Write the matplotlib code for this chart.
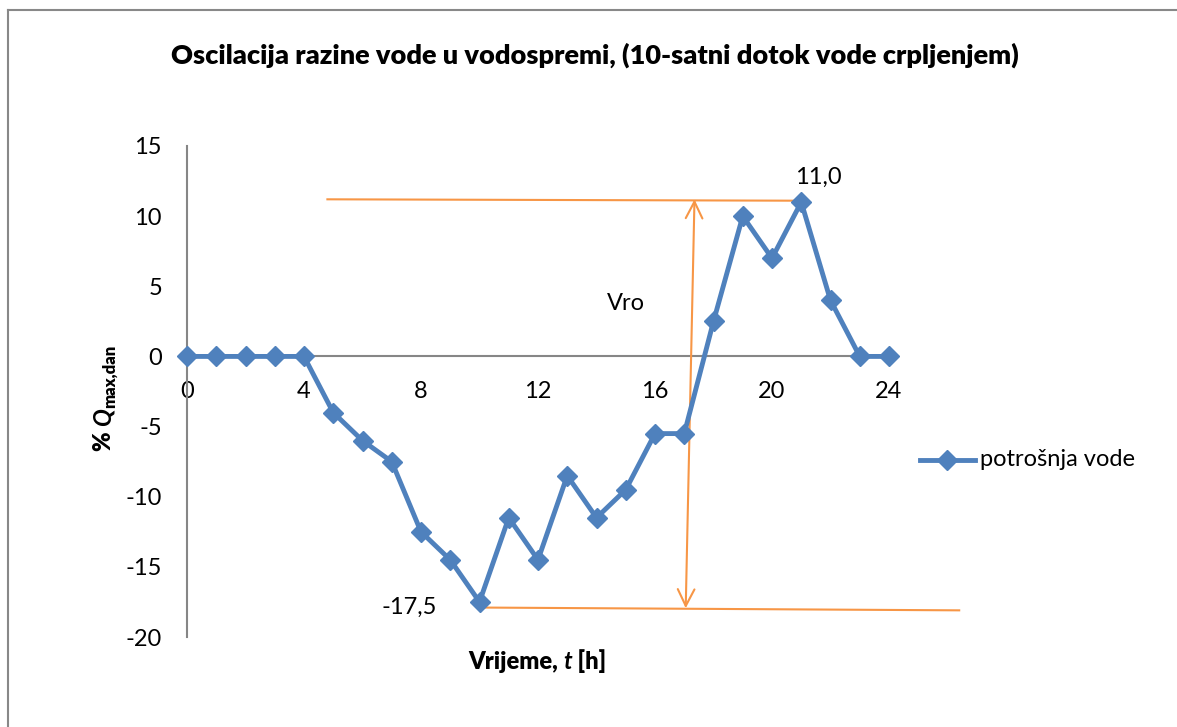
import numpy as np
import matplotlib.pyplot as plt
from matplotlib.lines import Line2D

plt.rcParams['font.family'] = ['Lato', 'DejaVu Sans']

# podaci
sati = list(range(25))
razina = [0, 0, 0, 0, 0, -4, -6, -7.5, -12.5, -14.5, -17.5, -11.5, -14.5, -8.5,
          -11.5, -9.5, -5.5, -5.5, 2.5, 10, 7, 11, 4, 0, 0]
xticks = [0, 4, 8, 12, 16, 20, 24]
yticks = [-20, -15, -10, -5, 0, 5, 10, 15]

plava = '#4F81BD'
narancasta = '#F79646'
siva = '#868686'
W, H = 1177, 727

fig = plt.figure(figsize=(11.77, 7.27), dpi=100)
ax = fig.add_axes([187/W, 1-637/H, (889-187)/W, (637-146)/H])

ax.plot(sati, razina, color=plava, lw=3.5, marker='D', ms=10.5, clip_on=False,
        zorder=5, label='potrošnja vode')

ax.set_xlim(0, 24)
ax.set_ylim(-20, 15)
ax.set_xticks(xticks)
ax.set_yticks(yticks)
ax.set_yticklabels([str(v) for v in yticks])
ax.spines['top'].set_visible(False)
ax.spines['right'].set_visible(False)
ax.spines['bottom'].set_position(('data', 0))
for s in ['left', 'bottom']:
    ax.spines[s].set_color(siva)
    ax.spines[s].set_linewidth(1.5)
ax.tick_params(axis='both', length=0, labelsize=17)
ax.tick_params(axis='y', pad=18)
ax.tick_params(axis='x', pad=18)

# pomocne linije
ax.plot([4.8, 21], [11.2, 11.1], color=narancasta, lw=1.5, clip_on=False, zorder=4)
ax.plot([10, 26.4], [-17.9, -18.1], color=narancasta, lw=1.5, clip_on=False, zorder=4)
ax.annotate('', xy=(17.35, 11.2), xytext=(17.05, -17.95),
            arrowprops=dict(arrowstyle='<->', color=narancasta, lw=1.5,
                            mutation_scale=30, shrinkA=0, shrinkB=0))

ax.text(15, 3.8, 'Vro', fontsize=17, ha='center', va='center')
ax.text(21.6, 12.8, '11,0', fontsize=17, ha='center', va='center')
ax.text(7.6, -17.9, '-17,5', fontsize=17, ha='center', va='center')

fig.text(595/W, 1-55/H, 'Oscilacija razine vode u vodospremi, (10-satni dotok vode crpljenjem)',
         fontsize=19.5, fontweight='heavy', ha='center', va='center')

# naslovi osi slazu se iz dijelova (bold, italic, indeks)
renderer = fig.canvas.get_renderer()


def slozi(dijelovi, cx, cy, vertikalno):
    # dijelovi: (tekst, velicina, stil, tezina, pomak baseline u px)
    duljine = []
    for t, fs, st, tz, dy in dijelovi:
        tmp = fig.text(0, 0, t, fontsize=fs, fontweight=tz, style=st)
        bb = tmp.get_window_extent(renderer)
        duljine.append(bb.width)
        tmp.remove()
    ukupno = sum(duljine)
    poz = -ukupno / 2
    for (t, fs, st, tz, dy), d in zip(dijelovi, duljine):
        if vertikalno:
            x = cx + dy + 6
            y = (H - cy) + poz
            fig.text(x / W, y / H, t, fontsize=fs, fontweight=tz, style=st,
                     rotation=90, rotation_mode='anchor', ha='left', va='baseline')
        else:
            x = cx + poz
            y = (H - cy) - dy - 6
            fig.text(x / W, y / H, t, fontsize=fs, fontweight=tz, style=st,
                     ha='left', va='baseline')
        poz += d


slozi([('Vrijeme, ', 17, 'normal', 'heavy', 0), ('t', 17, 'italic', 'bold', 0),
       (' [h]', 17, 'normal', 'heavy', 0)], 537, 663, False)
slozi([('% ', 17, 'normal', 'heavy', 0), ('Q', 17, 'italic', 'bold', 0),
       ('max,dan', 12, 'normal', 'heavy', 4)], 105, 398, True)

# legenda
fig.lines.append(Line2D([920/W, 975/W], [1-460/H, 1-460/H], color=plava,
                        lw=3.5, transform=fig.transFigure))
fig.lines.append(Line2D([947/W], [1-460/H], color=plava, marker='D', ms=10.5,
                        transform=fig.transFigure))
fig.text(980/W, 1-460/H, 'potrošnja vode', fontsize=17, ha='left', va='center')

# okvir (samo gore i lijevo)
fig.lines.append(Line2D([8/W, 1.0], [1-10/H, 1-10/H], color='#888888', lw=1.5,
                        transform=fig.transFigure))
fig.lines.append(Line2D([8/W, 8/W], [0, 1-10/H], color='#888888', lw=1.5,
                        transform=fig.transFigure))

fig.savefig('out.png', dpi=100)
